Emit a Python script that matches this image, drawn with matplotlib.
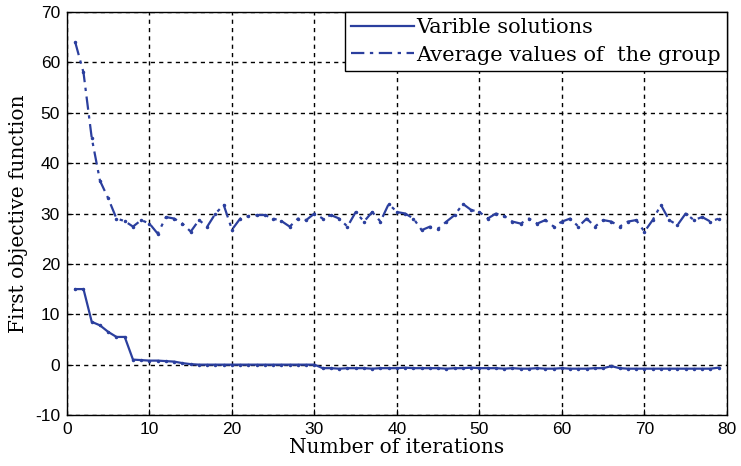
import numpy as np
import matplotlib.pyplot as plt

plt.rcParams['font.family'] = ['DejaVu Serif']
plt.rcParams['axes.unicode_minus'] = False

# iteration numbers
iterations = np.arange(1, 80)

# Varible solutions
best_vals = [15, 15, 8.5, 7.8, 6.5, 5.5, 5.5, 1.0, 0.9, 0.8,
             0.8, 0.7, 0.6, 0.3, 0.1, 0, 0, 0, 0, 0,
             0, 0, 0, 0, 0, 0, 0, 0, 0, 0,
             -0.7, -0.7, -0.8, -0.7, -0.7, -0.7, -0.8, -0.7, -0.7, -0.7,
             -0.6, -0.7, -0.7, -0.7, -0.7, -0.8, -0.7, -0.7, -0.6, -0.7,
             -0.7, -0.7, -0.8, -0.7, -0.8, -0.8, -0.7, -0.8, -0.8, -0.7,
             -0.8, -0.8, -0.8, -0.7, -0.7, -0.3, -0.7, -0.8, -0.8, -0.8,
             -0.8, -0.8, -0.8, -0.8, -0.8, -0.8, -0.8, -0.8, -0.6]

# Average values of the group
avg_vals = [64, 58, 45, 36.5, 33, 29, 28.5, 27.4, 28.7, 28,
            26, 29.3, 29, 28, 26.4, 28.7, 27.4, 30, 31.7, 26.8,
            29, 29.5, 29.7, 29.7, 29, 28.5, 27.4, 29, 28.7, 30,
            29, 29.7, 29, 27.4, 30.3, 28.4, 30.3, 28.4, 31.9, 30.3,
            30, 29, 26.7, 27.4, 27, 28.4, 29.7, 31.9, 30.7, 30.3,
            29, 30, 29.5, 28.4, 28, 29, 28, 28.7, 27.4, 28.4,
            29, 27.4, 29, 27.4, 28.7, 28.4, 27.4, 28.4, 28.7, 26.4,
            28.7, 31.7, 28.7, 27.7, 30, 28.7, 29.3, 28.4, 29]

xticks = np.arange(0, 81, 10)
yticks = np.arange(-10, 71, 10)

blue = '#2b3f9e'

fig = plt.figure(figsize=(7.41, 4.66), dpi=100)
ax = fig.add_axes([0.0904, 0.1094, 0.8906, 0.8648])

ax.plot(iterations, best_vals, '-', color=blue, lw=1.6, marker='.', ms=3,
        label='Varible solutions')
ax.plot(iterations, avg_vals, linestyle=(0, (6, 2.5, 1.5, 2.5)), color=blue,
        lw=1.6, marker='.', ms=3, label='Average values of  the group')

ax.set_xlim(0, 80)
ax.set_ylim(-10, 70)
ax.set_xticks(xticks)
ax.set_yticks(yticks)
ax.tick_params(direction='in', labelsize=12.5, length=4, pad=5)
for lab in ax.get_xticklabels() + ax.get_yticklabels():
    lab.set_family('Liberation Sans')
ax.grid(True, color='black', linestyle=(0, (3, 3)), linewidth=1.0)
for s in ax.spines.values():
    s.set_linewidth(1.0)

ax.set_xlabel('Number of iterations', fontsize=14.5, labelpad=1)
ax.set_ylabel('First objective function', fontsize=14.5, labelpad=5)

leg = ax.legend(loc='upper right', fontsize=15, borderaxespad=0, fancybox=False,
                framealpha=1, edgecolor='black', handlelength=3.0,
                handletextpad=0.1, borderpad=0.3, labelspacing=0.4)
leg.get_frame().set_linewidth(1.0)
for line in leg.get_lines():
    line.set_marker('')

fig.savefig('out.png', dpi=100)
